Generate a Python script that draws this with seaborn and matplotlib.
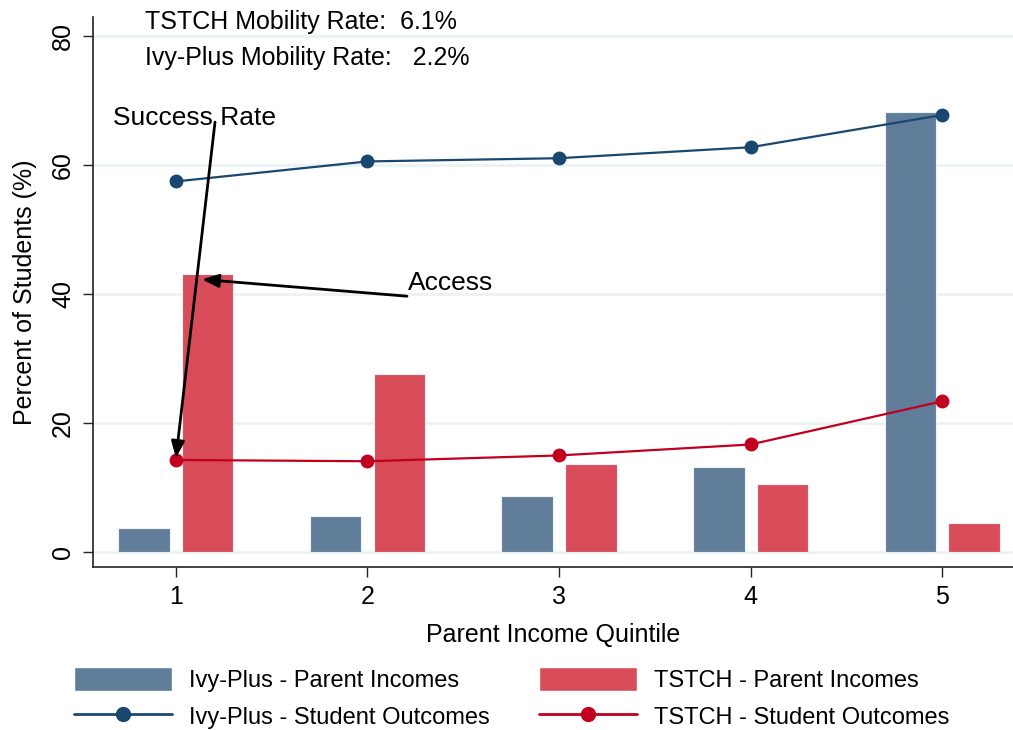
import pandas as pd
import matplotlib
matplotlib.use("Agg")
import matplotlib.pyplot as plt
import seaborn as sns
from matplotlib.patches import Patch
from matplotlib.lines import Line2D

# data
quintiles = [1, 2, 3, 4, 5]
ivy_parent = [3.7, 5.6, 8.7, 13.2, 68.2]
tstch_parent = [43.1, 27.6, 13.6, 10.5, 4.5]
ivy_outcome = [57.5, 60.6, 61.1, 62.8, 67.8]
tstch_outcome = [14.3, 14.1, 15.0, 16.7, 23.4]

ivy_bar_color = "#607d9a"
tstch_bar_color = "#d94d5a"
ivy_line_color = "#1a476f"
tstch_line_color = "#c10020"

sns.set_style("white")
plt.rcParams["font.family"] = ["Liberation Sans", "DejaVu Sans"]
plt.rcParams["text.color"] = "black"
plt.rcParams["axes.labelcolor"] = "black"
plt.rcParams["xtick.color"] = "black"
plt.rcParams["ytick.color"] = "black"

FS = 18

bars = pd.DataFrame({
    "quintile": quintiles * 2,
    "pct": ivy_parent + tstch_parent,
    "group": ["Ivy-Plus"] * 5 + ["TSTCH"] * 5,
})
lines = pd.DataFrame({
    "quintile": quintiles * 2,
    "pct": ivy_outcome + tstch_outcome,
    "group": ["Ivy-Plus"] * 5 + ["TSTCH"] * 5,
})

fig = plt.figure(figsize=(10.13, 7.30), dpi=100)
ax = fig.add_axes([0.0918, 0.2233, 0.9082, 0.7534])

for yv in [0, 20, 40, 60, 80]:
    ax.axhline(yv, color="#eaf2f3", lw=2, zorder=0)

sns.barplot(data=bars, x="quintile", y="pct", hue="group", native_scale=True,
            palette=[ivy_bar_color, tstch_bar_color], saturation=1,
            width=0.664, gap=0.19, edgecolor="#eef2f5", linewidth=0.8,
            ax=ax, zorder=2, legend=False)
sns.lineplot(data=lines, x="quintile", y="pct", hue="group",
             palette=[ivy_line_color, tstch_line_color], marker="o",
             markersize=10, markeredgewidth=0, linewidth=1.6, ax=ax,
             zorder=3, legend=False)

ax.set_xlim(0.567, 5.37)
ax.set_ylim(-2.3, 83)
ax.set_xticks(quintiles)
ax.set_yticks([0, 20, 40, 60, 80])
ax.tick_params(axis="both", labelsize=FS, length=7, width=1, direction="out",
               color="#222222", left=True, bottom=True, pad=6)
for lbl in ax.get_yticklabels():
    lbl.set_rotation(90)
    lbl.set_va("center")
ax.set_xlabel("Parent Income Quintile", fontsize=FS, labelpad=10)
ax.set_ylabel("Percent of Students (%)", fontsize=FS, labelpad=10)
for s in ["top", "right"]:
    ax.spines[s].set_visible(False)
for s in ["left", "bottom"]:
    ax.spines[s].set_color("#222222")
    ax.spines[s].set_linewidth(1.2)

ax.text(0.838, 82.2, "TSTCH Mobility Rate:  6.1%", fontsize=FS, va="center")
ax.text(0.838, 76.7, "Ivy-Plus Mobility Rate:   2.2%", fontsize=FS, va="center")
ax.text(0.671, 67.4, "Success Rate", fontsize=19, va="center")
ax.text(2.21, 41.7, "Access", fontsize=19, va="center")

arrow = dict(arrowstyle="-|>,head_length=1.0,head_width=0.4", color="black",
             lw=2, shrinkA=0, shrinkB=0)
ax.annotate("", xy=(1.0, 14.6), xytext=(1.204, 66.7), arrowprops=arrow, zorder=5)
ax.annotate("", xy=(1.136, 42.3), xytext=(2.206, 39.7), arrowprops=arrow, zorder=5)

handles = [
    Patch(facecolor=ivy_bar_color, label="Ivy-Plus - Parent Incomes"),
    Line2D([], [], color=ivy_line_color, lw=2, marker="o", markersize=10,
           label="Ivy-Plus - Student Outcomes"),
    Patch(facecolor=tstch_bar_color, label="TSTCH - Parent Incomes"),
    Line2D([], [], color=tstch_line_color, lw=2, marker="o", markersize=10,
           label="TSTCH - Student Outcomes"),
]
fig.legend(handles=handles, ncol=2, loc="center", bbox_to_anchor=(0.505, 0.044),
           frameon=False, fontsize=17, handlelength=4.15, handleheight=1.2,
           columnspacing=2.1, handletextpad=0.72, labelspacing=0.5)

fig.savefig("out.png", dpi=100)
